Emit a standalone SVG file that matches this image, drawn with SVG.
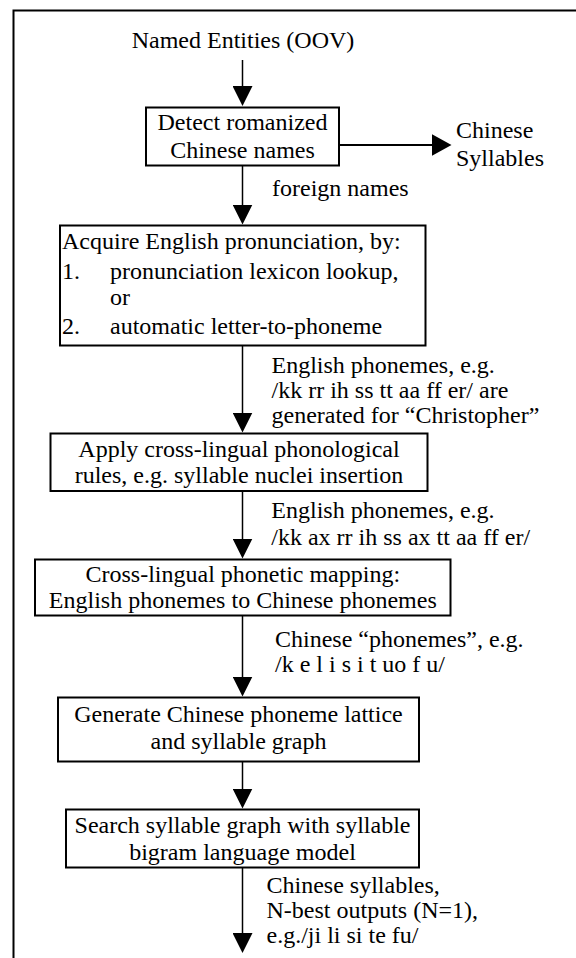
<svg xmlns="http://www.w3.org/2000/svg" width="576" height="958" viewBox="0 0 576 958">
<style>
text{font-family:"Liberation Serif","Times New Roman",serif;font-size:24px;fill:#000}
.c{text-anchor:middle}
.box{fill:#fff;stroke:#000;stroke-width:2}
.ln{stroke:#000;stroke-width:1.5;fill:none}
.frame{fill:none;stroke:#000;stroke-width:2}
</style>
<defs>
<marker id="ah" markerUnits="userSpaceOnUse" markerWidth="20" markerHeight="20" refX="17" refY="10" orient="auto" viewBox="0 0 20 20">
<path d="M0,0 L20,10 L0,20 z" fill="#000"/>
</marker>
<marker id="ahr" markerUnits="userSpaceOnUse" markerWidth="20" markerHeight="22" refX="17" refY="11" orient="auto" viewBox="0 0 20 22">
<path d="M0,0 L20,11 L0,22 z" fill="#000"/>
</marker>
</defs>
<rect class="frame" x="13.5" y="10.5" width="620" height="1000"/>

<g id="connectors">
<line class="ln" x1="242.5" y1="60" x2="242.5" y2="103" marker-end="url(#ah)"/>
<line class="ln" x1="339" y1="145" x2="448.5" y2="145" style="stroke-width:2" marker-end="url(#ahr)"/>
<line class="ln" x1="242.5" y1="166" x2="242.5" y2="221.5" marker-end="url(#ah)"/>
<line class="ln" x1="242.5" y1="345.5" x2="242.5" y2="429.5" marker-end="url(#ah)"/>
<line class="ln" x1="242.5" y1="491" x2="242.5" y2="555.5" marker-end="url(#ah)"/>
<line class="ln" x1="242.5" y1="615.5" x2="242.5" y2="693.5" marker-end="url(#ah)"/>
<line class="ln" x1="242.5" y1="761.5" x2="242.5" y2="805.5" marker-end="url(#ah)"/>
<line class="ln" x1="242.5" y1="867.5" x2="242.5" y2="950" marker-end="url(#ah)"/>
</g>

<g id="start">
<text class="c" x="243" y="48">Named Entities (OOV)</text>
</g>

<g id="detect">
<rect class="box" x="146" y="107.5" width="193" height="58"/>
<text class="c" x="242.5" y="130">Detect romanized</text>
<text class="c" x="242.5" y="158">Chinese names</text>
</g>

<g id="chinese-syllables">
<text x="456" y="138">Chinese</text>
<text x="456" y="166">Syllables</text>
</g>

<g id="label-foreign">
<text x="272" y="196">foreign names</text>
</g>

<g id="acquire">
<rect class="box" x="60" y="225.5" width="365.5" height="120"/>
<text x="62" y="248.5">Acquire English pronunciation, by:</text>
<text x="62" y="278.5">1.</text>
<text x="110" y="278.5">pronunciation lexicon lookup,</text>
<text x="110" y="305">or</text>
<text x="62" y="333.5">2.</text>
<text x="110" y="333.5">automatic letter-to-phoneme</text>
</g>

<g id="label-eng1">
<text x="271.5" y="373.3">English phonemes, e.g.</text>
<text x="271.5" y="398.3">/kk rr ih ss tt aa ff er/ are</text>
<text x="271.5" y="423.3">generated for “Christopher”</text>
</g>

<g id="apply">
<rect class="box" x="50.5" y="433.5" width="377" height="57.5"/>
<text class="c" x="239" y="456.7">Apply cross-lingual phonological</text>
<text class="c" x="239" y="483.3">rules, e.g. syllable nuclei insertion</text>
</g>

<g id="label-eng2">
<text x="271.3" y="518.3">English phonemes, e.g.</text>
<text x="271.3" y="545">/kk ax rr ih ss ax tt aa ff er/</text>
</g>

<g id="mapping">
<rect class="box" x="35" y="559.5" width="415.5" height="56"/>
<text class="c" x="242.8" y="581.5">Cross-lingual phonetic mapping:</text>
<text class="c" x="242.8" y="608.3">English phonemes to Chinese phonemes</text>
</g>

<g id="label-chn-phonemes">
<text x="275" y="646.7">Chinese “phonemes”, e.g.</text>
<text x="275" y="671.5">/k e l i s i t uo f u/</text>
</g>

<g id="generate">
<rect class="box" x="58" y="697.5" width="361" height="64"/>
<text class="c" x="238.5" y="721.7">Generate Chinese phoneme lattice</text>
<text class="c" x="238.5" y="749.3">and syllable graph</text>
</g>

<g id="search">
<rect class="box" x="66" y="809.5" width="353" height="58"/>
<text class="c" x="242.5" y="833.3">Search syllable graph with syllable</text>
<text class="c" x="242.5" y="860">bigram language model</text>
</g>

<g id="label-output">
<text x="266.5" y="893.3">Chinese syllables,</text>
<text x="266.5" y="918.3">N-best outputs (N=1),</text>
<text x="266.5" y="943.3">e.g./ji li si te fu/</text>
</g>
</svg>
